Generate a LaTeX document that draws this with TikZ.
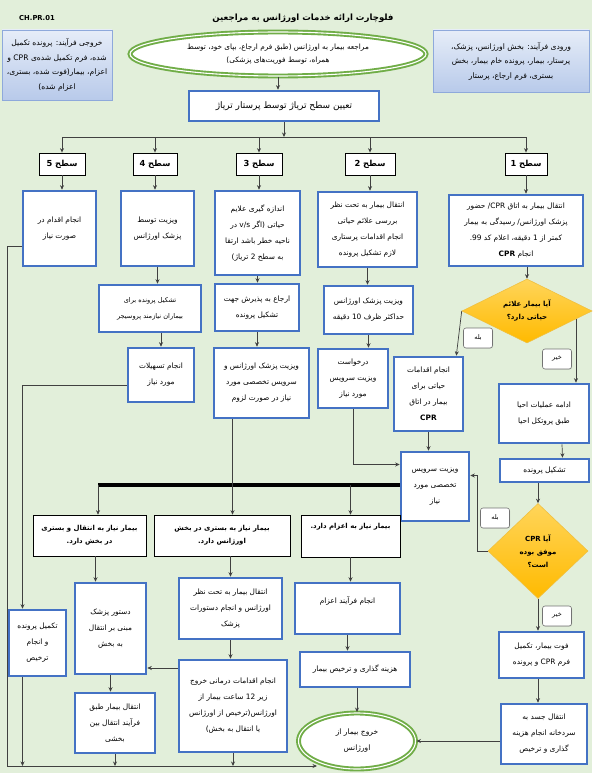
\documentclass[tikz,border=0pt]{standalone}
\usepackage{fontspec}
\usepackage{tikz}
\usetikzlibrary{arrows.meta,shapes.geometric,positioning,calc,shadows}
\newfontfamily\arabicfont[Script=Arabic]{DejaVu Sans}
\TeXXeTstate=1
\newcommand{\fa}[1]{\beginR#1\endR}
\newcommand{\ltr}[1]{\beginL#1\endL}
\definecolor{bgcol}{HTML}{E2EFDA}
\definecolor{boxblue}{HTML}{4472C4}
\definecolor{termgreen}{HTML}{70AD47}
\definecolor{decTop}{HTML}{FFD55A}
\definecolor{decBot}{HTML}{FFBA00}
\definecolor{decEdge}{HTML}{F0C040}
\definecolor{infoTop}{HTML}{E6EDF8}
\definecolor{infoBot}{HTML}{B8CAEA}
\definecolor{infoEdge}{HTML}{8EA9DB}

\begin{document}
\begin{tikzpicture}[x=1pt,y=-1pt,
    stepbox/.style={draw=boxblue, line width=2.6pt, fill=white, align=center, inner sep=2pt, font=\arabicfont\fontsize{7.4}{16}\selectfont},
    lvlbox/.style={draw=black, line width=0.8pt, fill=white, minimum height=22pt, inner sep=1pt, font=\arabicfont\bfseries\fontsize{8.3}{10}\selectfont},
    needbox/.style={draw=black, line width=0.6pt, fill=white, align=center, inner sep=2pt, font=\arabicfont\bfseries\fontsize{6.9}{13}\selectfont},
    infobox/.style={draw=infoEdge, line width=0.8pt, top color=infoTop, bottom color=infoBot, drop shadow={opacity=0.3, shadow xshift=1.2pt, shadow yshift=-1.2pt}, align=center, inner sep=2pt, font=\arabicfont\fontsize{7.6}{14.5}\selectfont},
    term/.style={ellipse, draw=termgreen, double=white, double distance=1.1pt, line width=1.9pt, fill=white, align=center, inner sep=1pt, font=\arabicfont\fontsize{7.3}{13}\selectfont},
    decision/.style={diamond, draw=decEdge, line width=0.6pt, top color=decTop, bottom color=decBot, align=center, inner sep=1pt, font=\arabicfont\bfseries\fontsize{7}{13}\selectfont},
    tag/.style={draw=black!55, rounded corners=2.5pt, fill=white, line width=0.6pt, minimum width=29pt, minimum height=20pt, inner sep=1pt, font=\arabicfont\fontsize{6.5}{8}\selectfont, drop shadow={opacity=0.25, shadow xshift=0.6pt, shadow yshift=-0.6pt}},
    line/.style={draw=black!75, line width=0.7pt},
    arr/.style={line, -{Stealth[length=4.5pt,width=4pt]}},
    bar/.style={draw=black, line width=4.5pt}
]
\fill[bgcol] (0,0) rectangle (592,773);
\useasboundingbox (0,0) rectangle (592,773);

\node[font=\arabicfont\bfseries\fontsize{6.8}{8}\selectfont] (code) at (37,18) {CH.PR.01};
\node[font=\arabicfont\bfseries\fontsize{8.6}{10}\selectfont] (title) at (303,18) {\fa{فلوچارت ارائه خدمات اورژانس به مراجعین}};

\node[infobox, minimum width=110pt, minimum height=70pt] (outp) at (57,65) {\fa{خروجی فرآیند: پرونده تکمیل}\\\fa{شده، فرم تکمیل شده‌ی \ltr{CPR} و}\\\fa{اعزام، بیمار(فوت شده، بستری،}\\\fa{اعزام شده)}};
\node[infobox, minimum width=156pt, minimum height=62pt] (inp) at (511,61) {\fa{ورودی فرآیند: بخش اورژانس، پزشک،}\\\fa{پرستار، بیمار، پرونده خام بیمار، بخش}\\\fa{بستری، فرم ارجاع، پرستار}};
\node[term, minimum width=296pt, minimum height=44pt] (start) at (278,54) {\fa{مراجعه بیمار به اورژانس (طبق فرم ارجاع، بپای خود، توسط}\\\fa{همراه، توسط فوریت‌های پزشکی)}};
\node[stepbox, minimum width=190pt, minimum height=30pt, font=\arabicfont\fontsize{9}{11}\selectfont] (triage) at (284,106) {\fa{تعیین سطح تریاژ توسط پرستار تریاژ}};

\node[lvlbox, minimum width=46pt] (lvl5) at (62,164) {\fa{سطح \ltr{5}}};
\node[lvlbox, minimum width=44pt] (lvl4) at (155,164) {\fa{سطح \ltr{4}}};
\node[lvlbox, minimum width=46pt] (lvl3) at (259,164) {\fa{سطح \ltr{3}}};
\node[lvlbox, minimum width=50pt] (lvl2) at (370,164) {\fa{سطح \ltr{2}}};
\node[lvlbox, minimum width=42pt] (lvl1) at (526,164) {\fa{سطح \ltr{1}}};

\node[stepbox, minimum width=73pt, minimum height=75pt] (act5) at (59.5,228.5) {\fa{انجام اقدام در}\\\fa{صورت نیاز}};
\node[stepbox, minimum width=73pt, minimum height=75pt] (act4) at (157.5,228.5) {\fa{ویزیت توسط}\\\fa{پزشک اورژانس}};
\node[stepbox, minimum width=85pt, minimum height=84pt] (act3) at (257.5,233) {\fa{اندازه گیری علایم}\\\fa{حیاتی (اگر \ltr{v/s} در}\\\fa{ناحیه خطر باشد ارتقا}\\\fa{به سطح \ltr{2} تریاژ)}};
\node[stepbox, minimum width=99pt, minimum height=75pt] (act2) at (367.5,229.5) {\fa{انتقال بیمار به تحت نظر}\\\fa{بررسی علائم حیاتی}\\\fa{انجام اقدامات پرستاری}\\\fa{لازم تشکیل پرونده}};
\node[stepbox, minimum width=134pt, minimum height=71pt] (act1) at (516,230.5) {\fa{انتقال بیمار به اتاق \ltr{CPR}/ حضور}\\\fa{پزشک اورژانس/ رسیدگی به بیمار}\\\fa{کمتر از \ltr{1} دقیقه، اعلام کد \ltr{99}.}\\\fa{انجام \ltr{\bfseries CPR}}};

\node[stepbox, minimum width=102pt, minimum height=47pt, font=\arabicfont\fontsize{6.6}{16}\selectfont] (file4) at (150,308.5) {\fa{تشکیل پرونده برای}\\\fa{بیماران نیازمند پروسیجر}};
\node[stepbox, minimum width=84pt, minimum height=47pt] (refer3) at (257,307.5) {\fa{ارجاع به پذیرش جهت}\\\fa{تشکیل پرونده}};
\node[stepbox, minimum width=89pt, minimum height=48pt] (visit2) at (368.5,310) {\fa{ویزیت پزشک اورژانس}\\\fa{حداکثر ظرف \ltr{10} دقیقه}};
\node[decision, aspect=2, minimum width=130pt, minimum height=64pt] (vital) at (527,311) {\fa{آیا بیمار علائم}\\\fa{حیاتی دارد؟}};

\node[stepbox, minimum width=66pt, minimum height=54pt] (fac4) at (161,375) {\fa{انجام تسهیلات}\\\fa{مورد نیاز}};
\node[stepbox, minimum width=95pt, minimum height=70pt] (spec3) at (261.5,383) {\fa{ویزیت پزشک اورژانس و}\\\fa{سرویس تخصصی مورد}\\\fa{نیاز در صورت لزوم}};
\node[stepbox, minimum width=70pt, minimum height=59pt] (req2) at (353,378.5) {\fa{درخواست}\\\fa{ویزیت سرویس}\\\fa{مورد نیاز}};
\node[stepbox, minimum width=69pt, minimum height=74pt] (cpr) at (428.5,394) {\fa{انجام اقدامات}\\\fa{حیاتی برای}\\\fa{بیمار در اتاق}\\\ltr{\bfseries CPR}};
\node[stepbox, minimum width=90pt, minimum height=59pt] (resus) at (544,413.5) {\fa{ادامه عملیات احیا}\\\fa{طبق پروتکل احیا}};
\node[stepbox, minimum width=89pt, minimum height=23pt] (file1) at (544.5,470.5) {\fa{تشکیل پرونده}};
\node[stepbox, minimum width=68pt, minimum height=69pt] (specv) at (435,486.5) {\fa{ویزیت سرویس}\\\fa{تخصصی مورد}\\\fa{نیاز}};
\node[decision, aspect=1.05, minimum width=100pt, minimum height=95pt] (cprok) at (538,551) {\fa{آیا \ltr{CPR}}\\\fa{موفق بوده}\\\fa{است؟}};

\node[tag] (yes1) at (478,338) {\fa{بله}};
\node[tag] (no1) at (557,359) {\fa{خیر}};
\node[tag] (yes2) at (495,518) {\fa{بله}};
\node[tag] (no2) at (557,616) {\fa{خیر}};

\node[needbox, minimum width=113pt, minimum height=41pt] (need1) at (89.5,535.5) {\fa{بیمار نیاز به انتقال و بستری}\\\fa{در بخش دارد.}};
\node[needbox, minimum width=136pt, minimum height=41pt] (need2) at (222,535.5) {\fa{بیمار نیاز به بستری در بخش}\\\fa{اورژانس دارد.}};
\node[needbox, minimum width=99pt, minimum height=42pt, text depth=20pt] (need3) at (350.5,536) {\fa{بیمار نیاز به اعزام دارد.}};

\node[stepbox, minimum width=57pt, minimum height=66pt] (close5) at (37.5,643) {\fa{تکمیل پرونده}\\\fa{و انجام}\\\fa{ترخیص}};
\node[stepbox, minimum width=71pt, minimum height=91pt] (order1) at (110.5,628.5) {\fa{دستور پزشک}\\\fa{مبنی بر انتقال}\\\fa{به بخش}};
\node[stepbox, minimum width=80pt, minimum height=60pt] (move1) at (115,723) {\fa{انتقال بیمار طبق}\\\fa{فرآیند انتقال بین}\\\fa{بخشی}};
\node[stepbox, minimum width=103pt, minimum height=61pt] (obs2) at (230.5,608.5) {\fa{انتقال بیمار به تحت نظر}\\\fa{اورژانس و انجام دستورات}\\\fa{پزشک}};
\node[stepbox, minimum width=108pt, minimum height=92pt] (treat2) at (233,706) {\fa{انجام اقدامات درمانی خروج}\\\fa{زیر \ltr{12} ساعت بیمار از}\\\fa{اورژانس(ترخیص از اورژانس}\\\fa{یا انتقال به بخش)}};
\node[stepbox, minimum width=105pt, minimum height=51pt, text depth=16pt] (disp3) at (347.5,608.5) {\fa{انجام فرآیند اعزام}};
\node[stepbox, minimum width=110pt, minimum height=35pt] (bill3) at (355,669.5) {\fa{هزینه گذاری و ترخیص بیمار}};
\node[term, minimum width=117pt, minimum height=56pt, font=\arabicfont\fontsize{7.5}{16}\selectfont] (exit) at (357,741) {\fa{خروج بیمار از}\\\fa{اورژانس}};
\node[stepbox, minimum width=85pt, minimum height=46pt] (dead) at (541.5,655) {\fa{فوت بیمار، تکمیل}\\\fa{فرم \ltr{CPR} و پرونده}};
\node[stepbox, minimum width=86pt, minimum height=60pt] (corpse) at (544,734) {\fa{انتقال جسد به}\\\fa{سردخانه انجام هزینه}\\\fa{گذاری و ترخیص}};

\coordinate (busT) at (62,137);
\coordinate (barL) at (98,485);
\coordinate (busB) at (7,766);
\coordinate (noA) at ($(vital.east)!0.25!(vital.south)$);

\draw[arr] (start.south) -- (start.south |- triage.north);
\draw[line] (busT) -- (busT -| lvl1);
\draw[arr] (triage.south) -- (triage.south |- busT);
\draw[arr] (busT) -- (lvl5.north);
\draw[arr] (lvl4 |- busT) -- (lvl4.north);
\draw[arr] (lvl3 |- busT) -- (lvl3.north);
\draw[arr] (lvl2 |- busT) -- (lvl2.north);
\draw[arr] (lvl1 |- busT) -- (lvl1.north);
\draw[arr] (lvl5.south) -- (lvl5.south |- act5.north);
\draw[arr] (lvl4.south) -- (lvl4.south |- act4.north);
\draw[arr] (lvl3.south) -- (lvl3.south |- act3.north);
\draw[arr] (lvl2.south) -- (lvl2.south |- act2.north);
\draw[arr] (lvl1.south) -- (lvl1.south |- act1.north);

\draw[arr] (act4.south) -- (act4.south |- file4.north);
\draw[arr] (fac4 |- file4.south) -- (fac4.north);
\draw[arr] (act3.south) -- (act3.south |- refer3.north);
\draw[arr] (refer3.south) -- (refer3.south |- spec3.north);
\draw[arr] (act2.south) -- (act2.south |- visit2.north);
\draw[arr] (visit2.south) -- (visit2.south |- req2.north);
\draw[arr] (vital |- act1.south) -- (vital.north);
\draw[arr] (vital.west) -- ([xshift=-8pt]cpr.north east);
\draw[arr] (noA) -- (noA |- resus.north);
\draw[arr] ([xshift=18pt]resus.south) -- ([xshift=18pt]file1.north);
\draw[arr] (cprok |- file1.south) -- (cprok.north);
\draw[arr] (cprok.south) -- (cprok.south |- dead.north);
\draw[arr] (cprok |- dead.south) -- (cprok |- corpse.north);
\draw[arr] (corpse.west |- exit) -- (exit.east);
\draw[arr] (cprok.west) -- ++(-10,0) |- ([yshift=11pt]specv.east);
\draw[arr] (cpr.south) -- (cpr.south |- specv.north);
\draw[arr] (req2.south) |- ([yshift=22pt]specv.west);

\draw[bar] (barL) -- (barL -| specv.west);
\draw[arr] (barL) -- (barL |- need1.north);
\draw[arr] (need3 |- barL) -- (need3.north);
\draw[arr] ([xshift=-29pt]spec3.south) -- ([xshift=-29pt]spec3.south |- need2.north);

\draw[arr] ([xshift=-15pt]order1.north |- need1.south) -- ([xshift=-15pt]order1.north);
\draw[arr] (order1.south) -- (order1.south |- move1.north);
\draw[arr] (move1.south) -- (move1.south |- busB);
\draw[arr] (obs2.north |- need2.south) -- (obs2.north);
\draw[arr] (obs2.south) -- (obs2.south |- treat2.north);
\draw[arr] ([yshift=38pt]treat2.west) -- ([yshift=38pt]treat2.west -| order1.east);
\draw[arr] (treat2.south) -- (treat2.south |- busB);
\draw[arr] (need3.south) -- (need3.south |- disp3.north);
\draw[arr] (disp3.south) -- (disp3.south |- bill3.north);
\draw[arr] (exit |- bill3.south) -- (exit.north);
\draw[arr] ([yshift=-18pt]act5.west) -| (busB) -- ([xshift=-40pt]busB -| exit);
\draw[arr] ([yshift=-10pt]fac4.west) -| ([xshift=-15pt]close5.north);
\draw[arr] ([xshift=-15pt]close5.south) -- ([xshift=-15pt]close5.south |- busB);
\end{tikzpicture}
\end{document}
